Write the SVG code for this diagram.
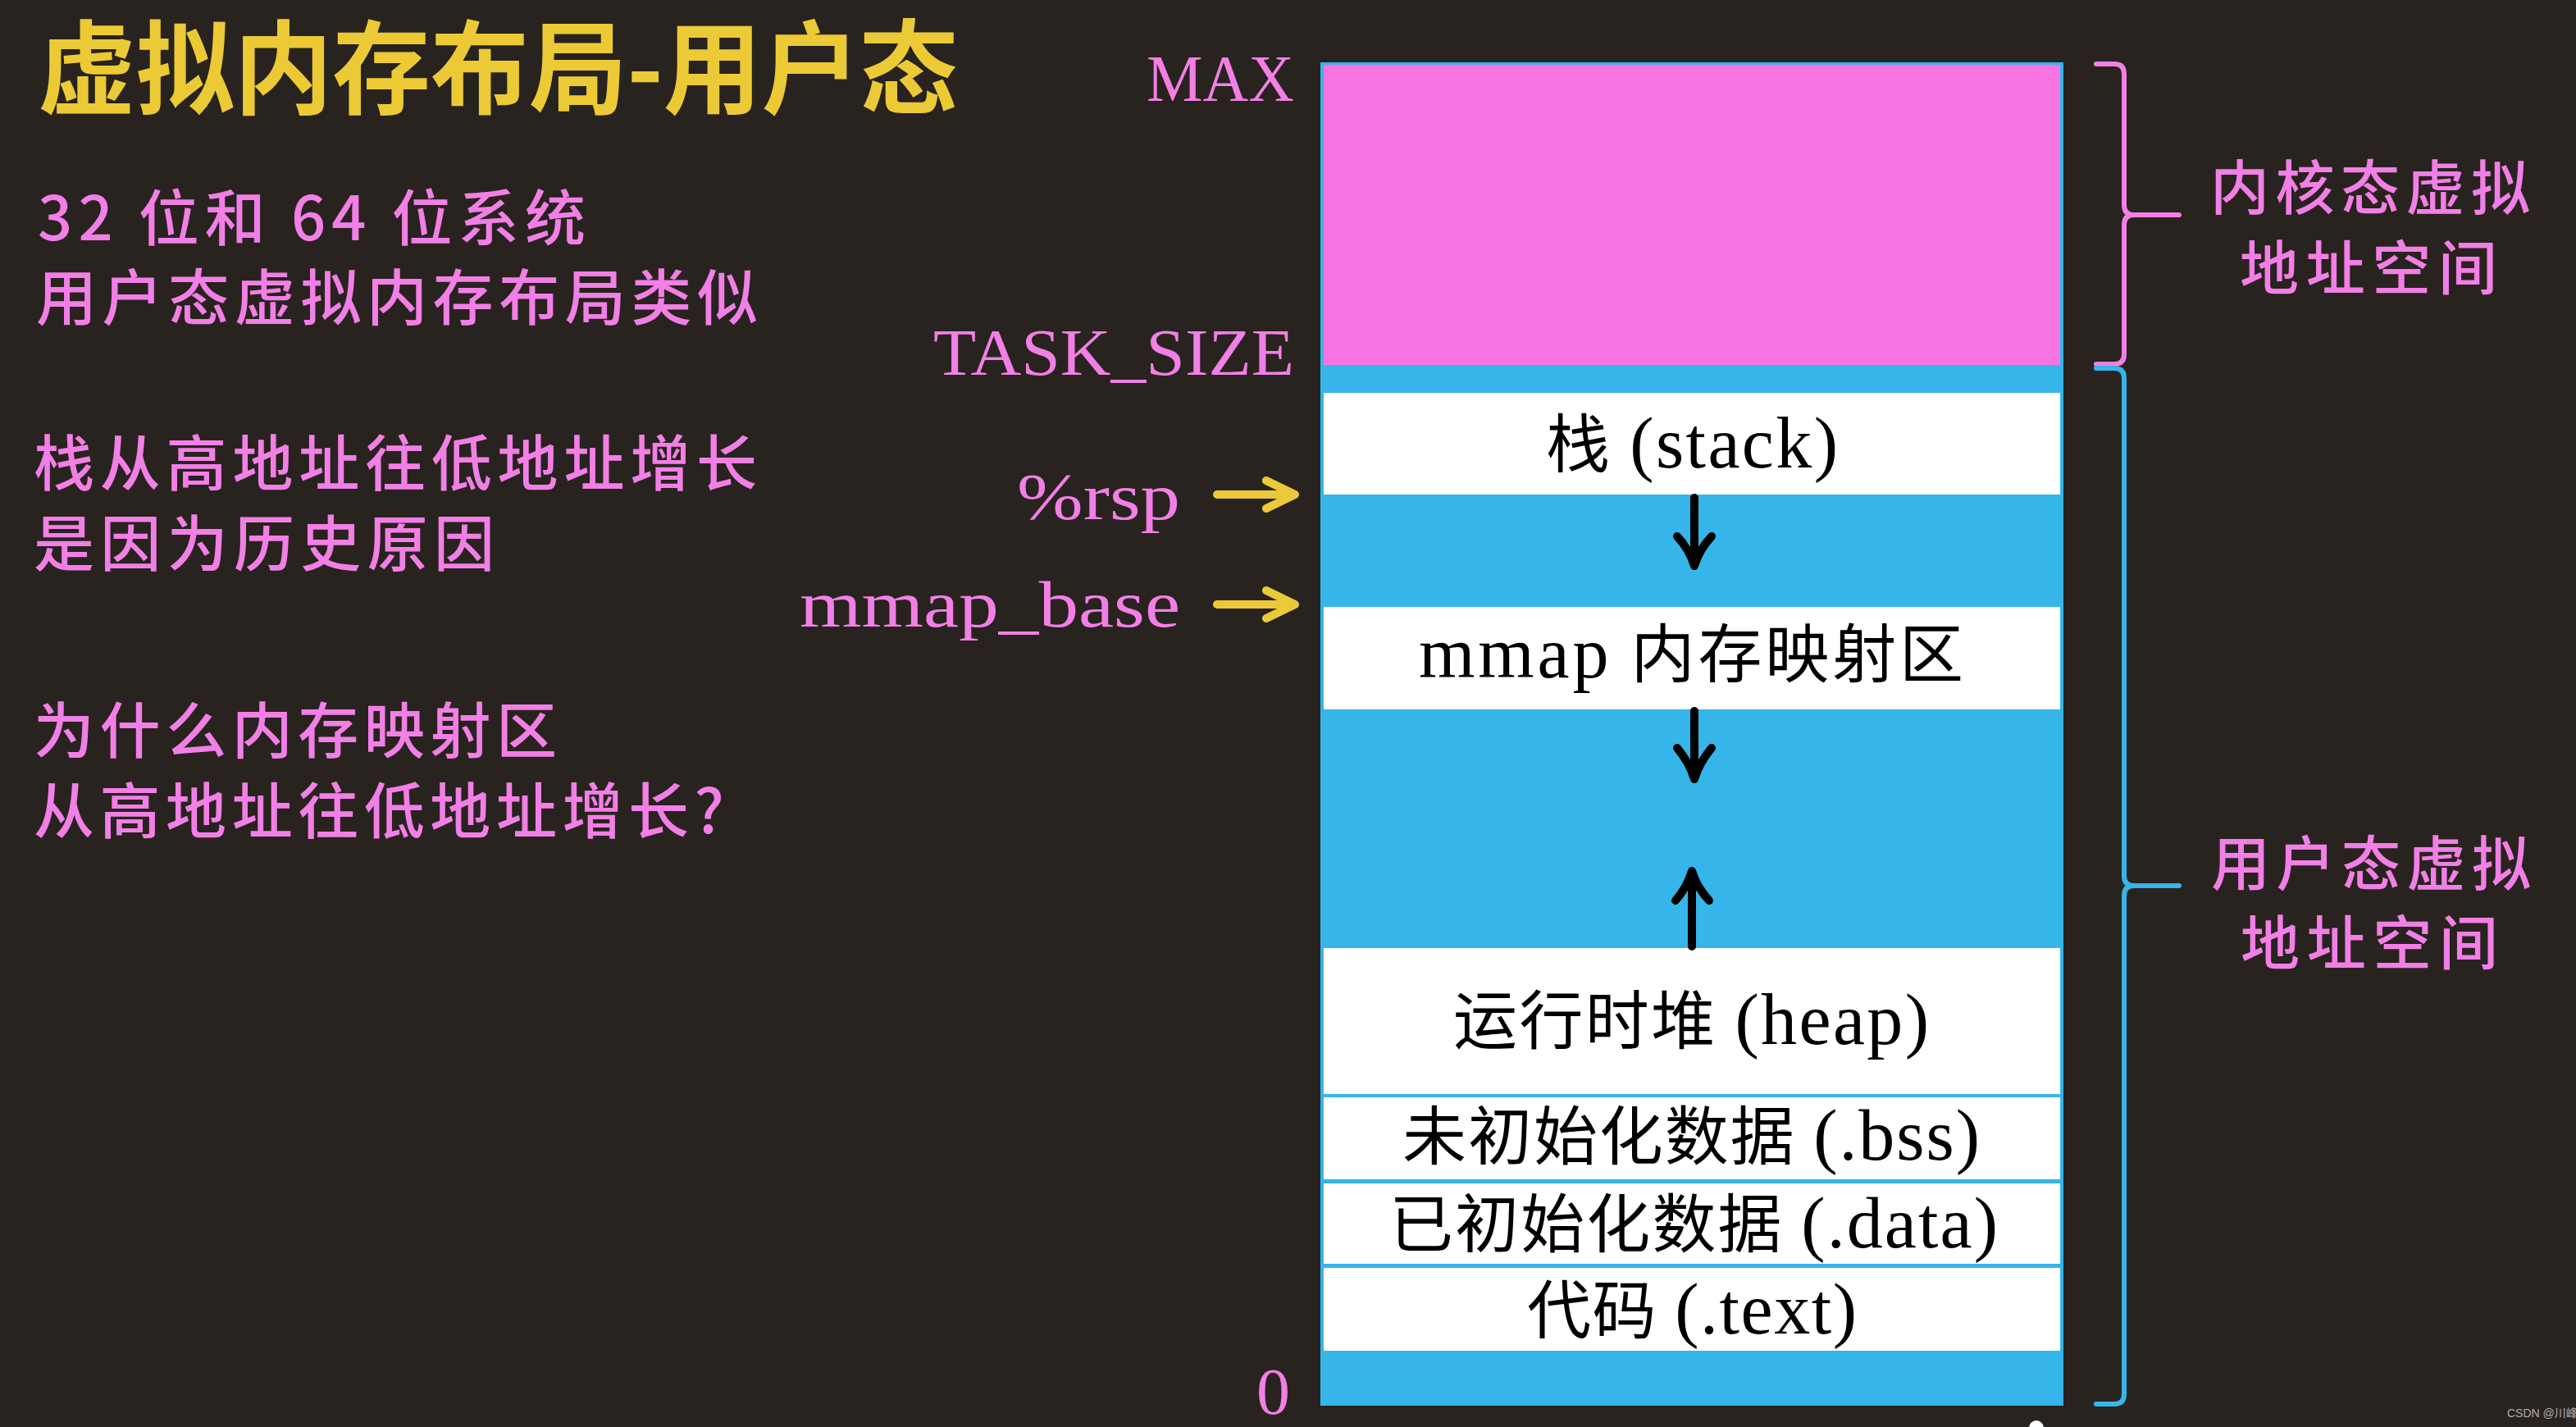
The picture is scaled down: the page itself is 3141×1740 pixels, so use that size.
<svg xmlns="http://www.w3.org/2000/svg" width="3141" height="1740" viewBox="0 0 3141 1740">
<style>
.cjk{font-family:"Noto Sans CJK SC","Noto Sans",sans-serif;}
.pinkt{fill:#f27fe6;font-size:74px;font-weight:500;}
.lbl{font-family:"Liberation Serif","Noto Sans CJK SC",serif;fill:#f27fe6;font-size:80px;}
.cell{fill:#ffffff;}
.celltxt{font-family:"Liberation Serif","Noto Sans CJK SC",serif;fill:#000000;font-size:78px;text-anchor:middle;}
.lat{font-size:88px;}
.side{font-family:"Noto Sans CJK SC",sans-serif;fill:#f27fe6;font-size:72px;font-weight:500;text-anchor:middle;}
.blk{stroke:#000000;stroke-width:10;fill:none;stroke-linecap:round;stroke-linejoin:round;}
.yel{stroke:#ebc93a;stroke-width:10;fill:none;stroke-linecap:round;stroke-linejoin:round;}
.brace{stroke-width:6;fill:none;stroke-linecap:round;stroke-linejoin:round;}
</style>
<rect x="0" y="0" width="3141" height="1740" fill="#28231f"/>

<g id="title">
<text class="cjk" x="46" y="129" font-size="124" font-weight="bold" fill="#ecca35" textLength="1122" lengthAdjust="spacingAndGlyphs">虚拟内存布局-用户态</text>
</g>

<g id="notes">
<text class="cjk pinkt" x="46" y="293" textLength="668">32 位和 64 位系统</text>
<text class="cjk pinkt" x="44" y="390" textLength="880">用户态虚拟内存布局类似</text>
<text class="cjk pinkt" x="41" y="592" textLength="882">栈从高地址往低地址增长</text>
<text class="cjk pinkt" x="41" y="690" textLength="562">是因为历史原因</text>
<text class="cjk pinkt" x="41" y="918" textLength="638">为什么内存映射区</text>
<text class="cjk pinkt" x="41" y="1016" textLength="842">从高地址往低地址增长?</text>
</g>

<g id="address-labels">
<text class="lbl" x="1578" y="123" text-anchor="end" textLength="180" lengthAdjust="spacingAndGlyphs">MAX</text>
<text class="lbl" x="1578" y="457" text-anchor="end" textLength="440" lengthAdjust="spacingAndGlyphs">TASK_SIZE</text>
<text class="lbl" x="1439" y="633" text-anchor="end" textLength="199" lengthAdjust="spacingAndGlyphs">%rsp</text>
<text class="lbl" x="1439" y="764" text-anchor="end" textLength="464" lengthAdjust="spacingAndGlyphs">mmap_base</text>
<text class="lbl" x="1573" y="1724" text-anchor="end" font-size="72" textLength="41" lengthAdjust="spacingAndGlyphs">0</text>
</g>

<g id="memory-column">
<rect x="1610" y="76" width="906" height="1638" fill="#35b5e9"/>
</g>
<g id="kernel-space">
<rect x="1614" y="79" width="898" height="366" fill="#f874e2"/>
</g>
<g id="stack">
<rect class="cell" x="1614" y="479" width="898" height="124"/>
<text class="celltxt" x="2063" y="570" textLength="356">栈 <tspan class="lat">(stack)</tspan></text>
</g>
<g id="mmap">
<rect class="cell" x="1614" y="740" width="898" height="125"/>
<text class="celltxt" x="2062" y="826" textLength="664"><tspan class="lat">mmap</tspan> 内存映射区</text>
</g>
<g id="heap">
<rect class="cell" x="1614" y="1156" width="898" height="178"/>
<text class="celltxt" x="2062" y="1273" textLength="580">运行时堆 <tspan class="lat">(heap)</tspan></text>
</g>
<g id="bss">
<rect class="cell" x="1614" y="1338" width="898" height="100"/>
<text class="celltxt" x="2062" y="1414" textLength="704">未初始化数据 <tspan class="lat">(.bss)</tspan></text>
</g>
<g id="data">
<rect class="cell" x="1614" y="1443" width="898" height="98"/>
<text class="celltxt" x="2065" y="1521" textLength="742">已初始化数据 <tspan class="lat">(.data)</tspan></text>
</g>
<g id="text-seg">
<rect class="cell" x="1614" y="1546" width="898" height="101"/>
<text class="celltxt" x="2063" y="1626" textLength="402">代码 <tspan class="lat">(.text)</tspan></text>
</g>

<g id="kernel-label">
<text class="side" x="2890" y="255" textLength="390">内核态虚拟</text>
<text class="side" x="2888" y="353" textLength="314">地址空间</text>
</g>
<g id="user-label">
<text class="side" x="2891" y="1079" textLength="390">用户态虚拟</text>
<text class="side" x="2889" y="1176" textLength="314">地址空间</text>
</g>

<g id="connectors">
<path class="blk" d="M2066,607 L2066,688 M2045,654 Q2060,670 2066,690 Q2072,670 2087,654"/>
<path class="blk" d="M2066,867 L2066,948 M2045,912 Q2060,930 2066,950 Q2072,930 2087,912"/>
<path class="blk" d="M2063,1154 L2063,1064 M2043,1098 Q2057,1082 2063,1062 Q2069,1082 2084,1098"/>
<path class="yel" d="M1484,603 L1576,603 M1544,586 L1579,603 L1544,620"/>
<path class="yel" d="M1484,737 L1576,737 M1544,720 L1579,737 L1544,754"/>
<path class="brace" stroke="#f27fe6" d="M2556,78 L2578,78 Q2590,78 2590,90 L2590,250 Q2590,262 2602,262 L2657,262 M2602,262 Q2590,262 2590,274 L2590,432 Q2590,444 2578,444 L2556,444"/>
<path class="brace" stroke="#35b5e9" d="M2556,449 L2578,449 Q2590,449 2590,461 L2590,1068 Q2590,1080 2602,1080 L2657,1080 M2602,1080 Q2590,1080 2590,1092 L2590,1700 Q2590,1712 2578,1712 L2556,1712"/>
</g>

<g id="overlay">
<circle cx="2483" cy="1741" r="9" fill="#ffffff"/>
<text x="3057" y="1728" font-family="Liberation Sans, Noto Sans CJK SC, sans-serif" font-size="14" fill="#b5afaa">CSDN @川峰</text>
</g>
</svg>
